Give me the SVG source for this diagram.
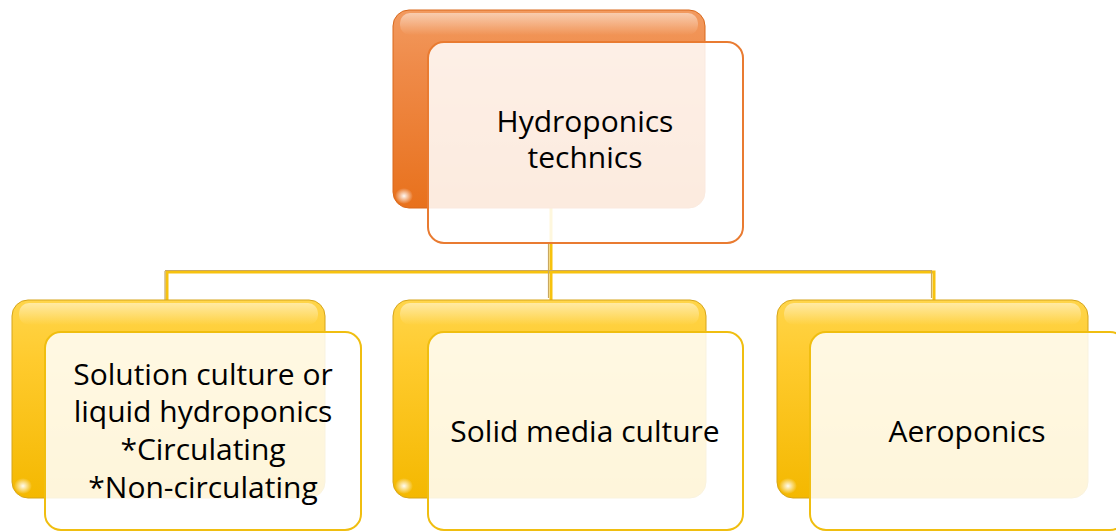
<svg xmlns="http://www.w3.org/2000/svg" width="1116" height="531" viewBox="0 0 1116 531">
  <defs>
    <linearGradient id="gOrange" x1="0" y1="0" x2="0" y2="1">
      <stop offset="0" stop-color="#F29A5F"/>
      <stop offset="0.3" stop-color="#EF8A48"/>
      <stop offset="1" stop-color="#E8711C"/>
    </linearGradient>
    <linearGradient id="gYellow" x1="0" y1="0" x2="0" y2="1">
      <stop offset="0" stop-color="#FFD54A"/>
      <stop offset="0.3" stop-color="#FFCB2E"/>
      <stop offset="1" stop-color="#F4B800"/>
    </linearGradient>
    <linearGradient id="gShine" x1="0" y1="0" x2="0" y2="1">
      <stop offset="0" stop-color="#FFFFFF" stop-opacity="0.5"/>
      <stop offset="1" stop-color="#FFFFFF" stop-opacity="0"/>
    </linearGradient>
    <radialGradient id="gSpot" cx="0.5" cy="0.5" r="0.5">
      <stop offset="0" stop-color="#FFFFFF" stop-opacity="0.95"/>
      <stop offset="1" stop-color="#FFFFFF" stop-opacity="0"/>
    </radialGradient>
    <style>
      .backO { fill: url(#gOrange); stroke: #D9691C; stroke-width: 1; }
      .backY { fill: url(#gYellow); stroke: #D6A51A; stroke-width: 1; }
      .shine { fill: url(#gShine); }
      .spot { fill: url(#gSpot); }
      .frontO { fill: #FFFFFF; fill-opacity: 0.86; stroke: #E97B31; stroke-width: 2; }
      .frontY { fill: #FFFFFF; fill-opacity: 0.86; stroke: #F0BE10; stroke-width: 2; }
      .conn { fill: none; stroke: #F7C20E; stroke-width: 3; }
      .connShade { fill: none; stroke: #C9A860; stroke-width: 1.2; }
      text { font-family: "Open Sans", "Noto Sans", "Liberation Sans", sans-serif; font-size: 30px; fill: #000000; text-anchor: middle; }
    </style>
  </defs>

  <!-- connectors from the root to the three children -->
  <g id="connectors">
    <path class="conn" d="M551,208 V272 M167,300 V272 H934 V300 M551,272 V300"/>
    <path class="connShade" d="M548.5,243 V298 M165,300 V271 M165,270.5 H932 M931.5,271 V298"/>
  </g>

  <!-- root node -->
  <g id="node-root">
    <rect class="backO" x="393" y="10" width="312" height="198" rx="16"/>
    <rect class="shine" x="400" y="13" width="298" height="22" rx="10"/>
    <ellipse class="spot" cx="404" cy="196" rx="9" ry="8"/>
    <rect class="frontO" x="428" y="42" width="315" height="201" rx="16"/>
    <text x="585" y="132">Hydroponics</text>
    <text x="585" y="168">technics</text>
  </g>

  <!-- child: solution culture -->
  <g id="node-solution">
    <rect class="backY" x="12" y="300" width="313" height="198" rx="16"/>
    <rect class="shine" x="19" y="303" width="299" height="22" rx="10"/>
    <ellipse class="spot" cx="23" cy="486" rx="9" ry="8"/>
    <rect class="frontY" x="45" y="332" width="316" height="198" rx="16"/>
    <text x="203" y="385">Solution culture or</text>
    <text x="203" y="422">liquid hydroponics</text>
    <text x="203" y="460">*Circulating</text>
    <text x="203" y="498">*Non-circulating</text>
  </g>

  <!-- child: solid media culture -->
  <g id="node-solid">
    <rect class="backY" x="393" y="300" width="313" height="198" rx="16"/>
    <rect class="shine" x="400" y="303" width="299" height="22" rx="10"/>
    <ellipse class="spot" cx="404" cy="486" rx="9" ry="8"/>
    <rect class="frontY" x="428" y="332" width="315" height="198" rx="16"/>
    <text x="585" y="442">Solid media culture</text>
  </g>

  <!-- child: aeroponics -->
  <g id="node-aero">
    <rect class="backY" x="777" y="300" width="311" height="198" rx="16"/>
    <rect class="shine" x="784" y="303" width="297" height="22" rx="10"/>
    <ellipse class="spot" cx="788" cy="486" rx="9" ry="8"/>
    <rect class="frontY" x="810" y="332" width="316" height="198" rx="16"/>
    <text x="967" y="442">Aeroponics</text>
  </g>
</svg>
